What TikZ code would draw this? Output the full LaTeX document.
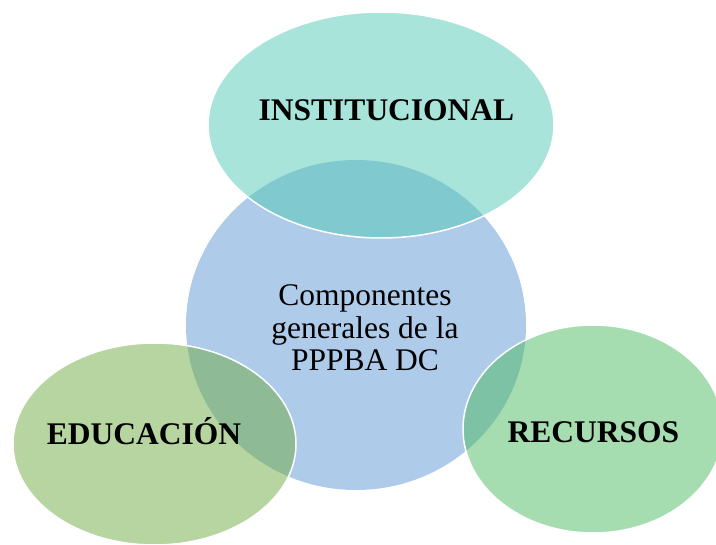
\documentclass[tikz,border=0pt]{standalone}
\usepackage{fontspec}
\setmainfont{Liberation Serif}
\usepackage{tikz}
\usetikzlibrary{shapes.geometric}
\definecolor{midblue}{HTML}{AECBEA}
\definecolor{topteal}{HTML}{51C9B5}
\definecolor{leftgreen}{HTML}{6FAB41}
\definecolor{rightgreen}{HTML}{4DBB61}
\tikzset{blob/.style={ellipse, inner sep=0pt, draw=white, line width=1.5pt, fill opacity=0.5},
	title/.style={font=\fontsize{31.5}{33}\selectfont\bfseries, anchor=base, inner sep=0pt}}

\begin{document}
\begin{tikzpicture}[x=1pt, y=-1pt]
	\useasboundingbox (0,0) rectangle (716,545);
	\clip (0,0) rectangle (716,545);
	\node[ellipse, inner sep=0pt, fill=midblue, minimum width=340pt, minimum height=330pt] (Center) at (356,325) {};
	\node[blob, fill=topteal, minimum width=346pt, minimum height=226pt] (Inst) at (381,125) {};
	\node[blob, fill=leftgreen, minimum width=283pt, minimum height=202pt] (Educ) at (154.5,444) {};
	\node[blob, fill=rightgreen, minimum width=260pt, minimum height=208pt] (Recu) at (593,429) {};
	\node[align=center, inner sep=0pt, font=\fontsize{31.5}{32.5}\selectfont] (Center text) at (365,328) {Componentes\\ generales de la\\ PPPBA DC};
	\node[title] (Inst text) at (386.5,121) {INSTITUCIONAL};
	\node[title] (Educ text) at (144,445) {EDUCACIÓN};
	\node[title] (Recu text) at (593.5,443) {RECURSOS};
\end{tikzpicture}
\end{document}
